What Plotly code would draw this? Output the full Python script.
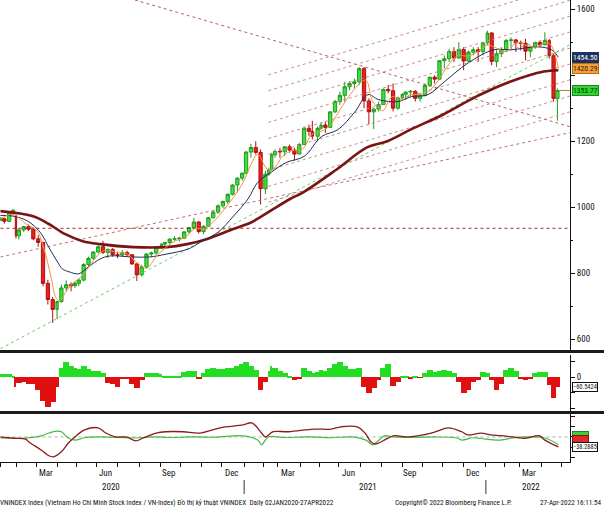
import pandas as pd
import plotly.graph_objects as go

FONT = "Liberation Sans Narrow, Roboto Condensed, Arial Narrow, DejaVu Sans Condensed, sans-serif"

# ---------------- weekly OHLC (VN-Index) ----------------
week_dates = [
    "2020-01-02", "2020-01-08", "2020-01-15", "2020-01-21", "2020-01-30", "2020-02-05", "2020-02-12", "2020-02-19",
    "2020-02-26", "2020-03-04", "2020-03-11", "2020-03-18", "2020-03-25", "2020-04-01", "2020-04-08", "2020-04-15",
    "2020-04-22", "2020-04-28", "2020-05-06", "2020-05-13", "2020-05-20", "2020-05-27", "2020-06-03", "2020-06-10",
    "2020-06-17", "2020-06-24", "2020-07-01", "2020-07-08", "2020-07-15", "2020-07-22", "2020-07-29", "2020-08-05",
    "2020-08-12", "2020-08-19", "2020-08-26", "2020-09-03", "2020-09-09", "2020-09-16", "2020-09-23", "2020-09-30",
    "2020-10-07", "2020-10-14", "2020-10-21", "2020-10-28", "2020-11-04", "2020-11-11", "2020-11-18", "2020-11-25",
    "2020-12-02", "2020-12-09", "2020-12-16", "2020-12-23", "2020-12-30",
    "2021-01-06", "2021-01-13", "2021-01-20", "2021-01-27", "2021-02-03", "2021-02-09", "2021-02-18", "2021-02-24",
    "2021-03-03", "2021-03-10", "2021-03-17", "2021-03-24", "2021-03-31", "2021-04-07", "2021-04-14", "2021-04-20",
    "2021-04-28", "2021-05-05", "2021-05-12", "2021-05-19", "2021-05-26", "2021-06-02", "2021-06-09", "2021-06-16",
    "2021-06-23", "2021-06-30", "2021-07-07", "2021-07-14", "2021-07-21", "2021-07-28", "2021-08-04", "2021-08-11",
    "2021-08-18", "2021-08-25", "2021-09-01", "2021-09-08", "2021-09-15", "2021-09-22", "2021-09-29", "2021-10-06",
    "2021-10-13", "2021-10-20", "2021-10-27", "2021-11-03", "2021-11-10", "2021-11-17", "2021-11-24", "2021-12-01",
    "2021-12-08", "2021-12-15", "2021-12-22", "2021-12-29",
    "2022-01-05", "2022-01-12", "2022-01-19", "2022-01-26", "2022-02-09", "2022-02-16", "2022-02-23", "2022-03-02",
    "2022-03-09", "2022-03-16", "2022-03-23", "2022-03-30", "2022-04-06", "2022-04-13", "2022-04-20", "2022-04-26",
]
opens = [
    961, 965, 957, 985, 975, 913, 931, 941, 933, 904, 893, 769, 720, 690, 714, 755,
    765, 762, 769, 779, 826, 845, 864, 880, 863, 872, 856, 855, 862, 856, 828, 795,
    819, 858, 861, 880, 888, 893, 903, 904, 906, 925, 938, 955, 926, 942, 968, 985,
    1004, 1017, 1039, 1067, 1088,
    1103, 1167, 1181, 1166, 1056, 1100, 1114, 1159, 1169, 1168, 1183, 1173, 1161, 1190, 1239, 1230,
    1215, 1239, 1249, 1242, 1289, 1320, 1339, 1365, 1375, 1380, 1420, 1322, 1289, 1297, 1311, 1357,
    1353, 1300, 1331, 1342, 1349, 1351, 1330, 1339, 1369, 1394, 1388, 1444, 1450, 1472, 1452, 1478,
    1443, 1470, 1477, 1472,
    1498, 1528, 1442, 1465, 1478, 1505, 1507, 1498, 1497, 1473, 1486, 1499, 1492, 1505, 1459, 1330,
]
highs = [
    970, 968, 988, 993, 976, 935, 943, 947, 938, 915, 895, 780, 728, 716, 765, 778,
    772, 775, 785, 830, 850, 866, 885, 898, 875, 876, 865, 870, 868, 858, 830, 825,
    860, 865, 882, 890, 895, 906, 912, 910, 927, 940, 968, 958, 945, 970, 990, 1008,
    1020, 1042, 1070, 1090, 1105,
    1170, 1192, 1200, 1175, 1110, 1120, 1165, 1175, 1180, 1185, 1190, 1180, 1195, 1245, 1250, 1262,
    1245, 1255, 1260, 1290, 1325, 1350, 1380, 1382, 1390, 1425, 1425, 1330, 1300, 1320, 1360, 1370,
    1375, 1335, 1345, 1350, 1355, 1355, 1345, 1375, 1395, 1400, 1445, 1460, 1480, 1485, 1500, 1485,
    1475, 1485, 1485, 1500,
    1535, 1530, 1475, 1485, 1510, 1515, 1510, 1505, 1510, 1490, 1502, 1505, 1530, 1510, 1465, 1360,
]
lows = [
    958, 950, 955, 978, 905, 902, 925, 928, 900, 880, 760, 705, 649, 660, 710, 745,
    745, 755, 760, 775, 820, 840, 860, 858, 845, 850, 845, 850, 850, 825, 776, 790,
    815, 850, 856, 875, 880, 888, 898, 896, 903, 920, 935, 920, 918, 940, 965, 980,
    998, 1010, 1035, 1045, 1080,
    1100, 1150, 1160, 1008, 1040, 1095, 1110, 1150, 1150, 1155, 1165, 1140, 1160, 1188, 1215, 1205,
    1200, 1235, 1225, 1240, 1285, 1310, 1320, 1355, 1360, 1370, 1300, 1250, 1237, 1290, 1310, 1345,
    1290, 1295, 1325, 1325, 1335, 1320, 1320, 1335, 1365, 1375, 1385, 1420, 1440, 1440, 1450, 1415,
    1440, 1460, 1440, 1460,
    1490, 1430, 1425, 1455, 1470, 1480, 1470, 1475, 1445, 1455, 1480, 1485, 1490, 1450, 1320, 1262,
]
closes = [
    965, 957, 985, 991, 913, 931, 941, 933, 904, 893, 769, 720, 690, 714, 755, 765,
    762, 769, 779, 826, 845, 864, 880, 863, 872, 856, 855, 862, 856, 828, 795, 819,
    858, 861, 880, 888, 893, 903, 904, 906, 925, 938, 955, 926, 942, 968, 985, 1004,
    1017, 1039, 1067, 1088, 1103,
    1167, 1181, 1166, 1056, 1100, 1114, 1159, 1169, 1168, 1183, 1173, 1161, 1190, 1239, 1230, 1215,
    1239, 1249, 1242, 1289, 1320, 1339, 1365, 1375, 1380, 1420, 1322, 1289, 1297, 1311, 1357, 1353,
    1300, 1331, 1342, 1349, 1351, 1330, 1339, 1369, 1394, 1388, 1444, 1450, 1472, 1452, 1478, 1443,
    1470, 1477, 1472, 1498,
    1528, 1442, 1465, 1478, 1505, 1507, 1498, 1497, 1473, 1486, 1499, 1492, 1505, 1459, 1330, 1353.77,
]
# oscillator (panel 2), weekly
osc_vals = [
    20, 22, 18, 10, -60, -35, -30, -40, -45, -80, -150, -190, -160, -60, 60, 98,
    75, 60, 55, 70, 55, 40, 38, 30, -35, -45, -64, -10, -5, -40, -70, -20,
    25, 28, 25, 22, 8, 6, 4, 5, 35, 42, 40, -8, 30, 50, 57, 55,
    50, 57, 60, 70, 85,
    98, 70, 45, -81, -30, 40, 75, 60, 40, 30, 10, -20, -10, 57, 40, 30,
    35, 45, 40, 60, 85, 98, 70, 55, 50, 57, -60, -100, -70, -20, 60, 85,
    -55, -30, 10, 8, -5, 5, -3, 30, 45, 35, 40, 45, 42, 30, -30, -100,
    -80, -30, -20, 35,
    30, -20, -80, -40, 45, 57, 40, -10, -15, -12, 30, 35, 32, -50, -134, -60.5424,
]

# ---------------- moving averages ----------------
ma200_dates = ["2020-01-02", "2020-02-25", "2020-03-19", "2020-04-14", "2020-05-12", "2020-06-05", "2020-07-23",
               "2020-09-11", "2020-10-12", "2020-11-09", "2020-12-16", "2021-01-12", "2021-01-22", "2021-02-22",
               "2021-03-17", "2021-04-06", "2021-05-28", "2021-07-12", "2021-08-10", "2021-09-15", "2021-11-02",
               "2021-12-20", "2022-02-15", "2022-04-05", "2022-04-27"]
ma200_vals = [988, 973, 949, 918, 897, 888, 879, 879, 888, 903, 933, 952, 965, 994,
              1024, 1045, 1115, 1181, 1200, 1235, 1281, 1335, 1380, 1411, 1415]

ma50_dates = ["2020-01-02", "2020-01-21", "2020-02-18", "2020-03-06", "2020-03-20", "2020-04-01", "2020-04-09",
              "2020-04-20", "2020-05-06", "2020-05-20", "2020-06-05", "2020-06-19", "2020-07-23", "2020-08-17",
              "2020-09-11", "2020-10-13", "2020-10-30", "2020-11-25", "2020-12-17", "2021-01-08", "2021-01-22",
              "2021-02-18", "2021-03-12", "2021-04-07", "2021-05-06", "2021-05-31", "2021-06-23", "2021-07-13",
              "2021-07-28", "2021-08-25", "2021-09-16", "2021-10-11", "2021-11-03", "2021-12-08", "2022-01-14",
              "2022-02-16", "2022-03-28", "2022-04-18", "2022-04-27"]
ma50_vals = [975, 973, 958, 924, 873, 834, 813, 804, 798, 819, 843, 852, 849, 849, 858, 873, 894, 924, 973,
             1025, 1075, 1106, 1136, 1154, 1214, 1235, 1287, 1341, 1326, 1320, 1335, 1341, 1380, 1438, 1477,
             1477, 1486, 1477, 1454.50]

ma20_dates = ["2020-01-02", "2020-01-21", "2020-02-14", "2020-03-03", "2020-03-12", "2020-03-23", "2020-03-30",
              "2020-04-06", "2020-04-15", "2020-04-24", "2020-05-11", "2020-06-02", "2020-06-15", "2020-07-01",
              "2020-07-15", "2020-07-29", "2020-08-12", "2020-08-26", "2020-09-10", "2020-09-24", "2020-10-08",
              "2020-10-22", "2020-11-05", "2020-11-19", "2020-12-03", "2020-12-17", "2020-12-31", "2021-01-14",
              "2021-01-22", "2021-02-05", "2021-02-22", "2021-03-08", "2021-03-22", "2021-04-05", "2021-04-19",
              "2021-05-04", "2021-05-18", "2021-06-01", "2021-06-15", "2021-06-29", "2021-07-09", "2021-07-20",
              "2021-08-03", "2021-08-17", "2021-08-31", "2021-09-14", "2021-09-28", "2021-10-12", "2021-10-26",
              "2021-11-09", "2021-11-23", "2021-12-07", "2021-12-21", "2022-01-06", "2022-01-19", "2022-02-10",
              "2022-02-24", "2022-03-10", "2022-03-24", "2022-04-07", "2022-04-18", "2022-04-27"]
ma20_vals = [965, 978, 950, 927, 873, 792, 728, 715, 745, 770, 790, 852, 870, 862, 858, 832, 815, 850, 878, 898,
             908, 935, 935, 958, 992, 1030, 1075, 1135, 1160, 1115, 1115, 1155, 1172, 1175, 1220, 1228, 1245,
             1290, 1335, 1370, 1385, 1320, 1292, 1335, 1325, 1340, 1342, 1352, 1385, 1430, 1460, 1458, 1470,
             1492, 1482, 1472, 1500, 1490, 1485, 1500, 1488, 1420.29]

# ---------------- panel 3 lines ----------------
red3_dates = ["2020-01-02", "2020-01-21", "2020-02-14", "2020-02-19", "2020-03-09", "2020-03-19", "2020-03-26",
              "2020-04-08", "2020-04-17", "2020-04-28", "2020-05-14", "2020-06-03", "2020-06-15", "2020-06-29",
              "2020-07-14", "2020-07-28", "2020-08-06", "2020-08-26", "2020-09-10", "2020-10-06", "2020-10-29",
              "2020-11-27", "2020-12-31", "2021-01-14", "2021-01-28", "2021-02-03", "2021-02-22", "2021-03-16",
              "2021-04-22", "2021-05-20", "2021-06-03", "2021-06-28", "2021-07-08", "2021-07-16", "2021-07-23",
              "2021-08-05", "2021-08-19", "2021-09-08", "2021-10-04", "2021-10-21", "2021-11-09", "2021-11-29",
              "2021-12-07", "2021-12-27", "2022-01-11", "2022-01-25", "2022-02-18", "2022-03-09", "2022-03-29",
              "2022-04-06", "2022-04-27"]
red3_vals = [0, -5, -8, -18, -50, -72, -76, -57, -24, 0, 27, 35, 15, 0, 0, -15, -5, 15, 20, 20, 15, 35, 46,
             54, 15, 0, 20, 20, 30, 30, 39, 39, 15, -18, -27, -12, 5, 0, 8, 20, 35, 20, 8, 15, 8, 5, 0, -5, 5,
             -12, -38.2885]
green3_dates = ["2020-01-02", "2020-02-14", "2020-03-09", "2020-03-19", "2020-03-31", "2020-04-08", "2020-04-17",
                "2020-04-28", "2020-05-14", "2020-06-03", "2020-07-01", "2020-07-28", "2020-08-20", "2020-09-15",
                "2020-10-20", "2020-11-20", "2020-12-31", "2021-01-22", "2021-01-28", "2021-02-08", "2021-03-10",
                "2021-04-15", "2021-05-20", "2021-06-21", "2021-07-09", "2021-07-20", "2021-08-05", "2021-08-19",
                "2021-09-20", "2021-10-20", "2021-11-22", "2021-11-29", "2021-12-15", "2021-12-27", "2022-01-25",
                "2022-02-18", "2022-03-09", "2022-04-06", "2022-04-27"]
green3_vals = [-4, -4, 4, 15, 22, 20, -4, -12, -3, 0, -2, -4, 0, -2, 0, -1, 4, -12, -30, 0, -2, 0, -3, 0,
               -12, -30, 4, 0, -2, 0, -4, -12, -3, -6, -12, -4, 0, -4, -30]

# ---------------- trend lines (date, value endpoints) ----------------
end_date = "2022-05-17"
chan_start_date = "2021-02-08"
chan_start_vals = [1401, 1353, 1305, 1257, 1208, 1160, 1112, 1063, 1015]
chan_end_vals = [1675, 1627, 1579, 1531, 1482, 1434, 1386, 1337, 1289]
long_lines = [
    # (x0, y0, x1, y1, color)
    ("2020-07-27", 1628, end_date, 1244, "#b46464"),
    ("2020-01-02", 849, end_date, 1226, "#c27070"),
]
green_trend = ("2020-01-02", 571, end_date, 1492)
hline_value = 936
last_close = 1353.77

holidays = ["2020-01-01", "2020-01-23", "2020-01-24", "2020-01-27", "2020-01-28", "2020-01-29", "2020-04-02",
            "2020-04-30", "2020-05-01", "2020-09-02", "2021-01-01", "2021-02-10", "2021-02-11", "2021-02-12",
            "2021-02-15", "2021-02-16", "2021-04-21", "2021-04-30", "2021-05-03", "2021-09-02", "2021-09-03",
            "2022-01-03", "2022-01-31", "2022-02-01", "2022-02-02", "2022-02-03", "2022-02-04", "2022-04-11",
            "2022-05-02", "2022-05-03"]

month_labels = ["Mar", "Jun", "Sep", "Dec", "Mar", "Jun", "Sep", "Dec", "Mar"]
month_label_months = ["2020-03", "2020-06", "2020-09", "2020-12", "2021-03", "2021-06", "2021-09", "2021-12", "2022-03"]
year_labels = ["2020", "2021", "2022"]
year_label_dates = ["2020-06-22", "2021-07-13", "2022-03-17"]
year_sep_dates = ["2021-01-04", "2022-01-04"]

# ---------------- figure ----------------
H = 462.0
def py(p):
    return (H - p) / H

fig = go.Figure()

# trend lines (behind candles)
fig.add_trace(go.Scatter(x=[week_dates[0], end_date], y=[hline_value, hline_value], mode="lines",
                         line=dict(color="#a02828", width=1, dash="dot"), hoverinfo="skip"))
for s, e in zip(chan_start_vals, chan_end_vals):
    fig.add_trace(go.Scatter(x=[chan_start_date, end_date], y=[s, e], mode="lines",
                             line=dict(color="#cc8c8c", width=1, dash="dot"), hoverinfo="skip"))
for x0, y0, x1, y1, c in long_lines:
    fig.add_trace(go.Scatter(x=[x0, x1], y=[y0, y1], mode="lines",
                             line=dict(color=c, width=1, dash="dot"), hoverinfo="skip"))
fig.add_trace(go.Scatter(x=[green_trend[0], green_trend[2]], y=[green_trend[1], green_trend[3]], mode="lines",
                         line=dict(color="#6ccc6c", width=1, dash="dot"), hoverinfo="skip"))

# moving averages
fig.add_trace(go.Scatter(x=ma200_dates, y=ma200_vals, mode="lines", line=dict(color="#7a1414", width=2.6, shape="spline"),
                         hoverinfo="skip"))
fig.add_trace(go.Scatter(x=ma50_dates, y=ma50_vals, mode="lines", line=dict(color="#1f2d5c", width=1, shape="spline"),
                         hoverinfo="skip"))
fig.add_trace(go.Scatter(x=ma20_dates, y=ma20_vals, mode="lines", line=dict(color="#f0943c", width=1, shape="spline"),
                         hoverinfo="skip"))

# candles
fig.add_trace(go.Candlestick(x=week_dates, open=opens, high=highs, low=lows, close=closes,
                             increasing=dict(line=dict(color="#1f9a1f", width=1), fillcolor="#3ee03e"),
                             decreasing=dict(line=dict(color="#b01010", width=1), fillcolor="#e82020"),
                             whiskerwidth=0, hoverinfo="skip"))
fig.add_trace(go.Scatter(x=[week_dates[-1], end_date], y=[last_close, last_close], mode="lines",
                         line=dict(color="#a08a2a", width=1), hoverinfo="skip"))

# panel 2 oscillator
osc_colors = ["#22dd22" if v >= 0 else "#e01010" for v in osc_vals]
fig.add_trace(go.Bar(x=week_dates, y=osc_vals, marker=dict(color=osc_colors, line=dict(width=0)),
                     yaxis="y2", hoverinfo="skip"))

# panel 3 lines
fig.add_trace(go.Scatter(x=[week_dates[0], end_date], y=[0, 0], mode="lines", yaxis="y3",
                         line=dict(color="#b0b0b0", width=1, dash="dot"), hoverinfo="skip"))
fig.add_trace(go.Scatter(x=green3_dates, y=green3_vals, mode="lines", yaxis="y3",
                         line=dict(color="#44bb44", width=1.2, shape="spline"), hoverinfo="skip"))
fig.add_trace(go.Scatter(x=red3_dates, y=red3_vals, mode="lines", yaxis="y3",
                         line=dict(color="#8c1c1c", width=1.3, shape="spline"), hoverinfo="skip"))

# x axis ticks at first trading day of each month
bd = pd.bdate_range("2020-01-01", end_date)
bd = bd[~bd.isin(pd.to_datetime(holidays))]
bds = pd.Series(bd, index=bd)
month_starts = bds.groupby([bd.year, bd.month]).min().tolist()

lab_font = dict(family=FONT, size=9, color="#111")
foot_font = dict(family=FONT, size=7.2, color="#111")
annotations = []
for lab, ym in zip(month_labels, month_label_months):
    mid = pd.Timestamp(ym + "-15")
    mid = bds[bds >= mid].iloc[0]
    annotations.append(dict(x=mid, y=py(473), xref="x", yref="paper", text=lab, showarrow=False,
                            font=lab_font, xanchor="center", yanchor="middle"))
for lab, d in zip(year_labels, year_label_dates):
    annotations.append(dict(x=d, y=py(487), xref="x", yref="paper", text=lab, showarrow=False,
                            font=lab_font, xanchor="center", yanchor="middle"))
annotations.append(dict(x=-0.004, y=py(502), xref="paper", yref="paper", xanchor="left", yanchor="middle",
                        text="VNINDEX Index (Vietnam Ho Chi Minh Stock Index / VN-Index) Đồ thị kỹ thuật VNINDEX  Daily 02JAN2020-27APR2022",
                        showarrow=False, font=foot_font))
annotations.append(dict(x=393 / 570, y=py(502), xref="paper", yref="paper", xanchor="left", yanchor="middle",
                        text="Copyright© 2022 Bloomberg Finance L.P.", showarrow=False, font=foot_font))
annotations.append(dict(x=603 / 570, y=py(502), xref="paper", yref="paper", xanchor="right", yanchor="middle",
                        text="27-Apr-2022 16:11:54", showarrow=False, font=foot_font))

# value tags on right axis
tags = [
    ("y", 1454.50, "1454.50", "#1c3160", "#ffffff", "#1c3160", 7.6),
    ("y", 1420.29, "1420.29", "#f4a03c", "#3a1800", "#c06a10", 7.6),
    ("y", 1353.77, "1353.77", "#33d433", "#003300", "#1a8a1a", 7.6),
    ("y2", -60.5424, "\u2212" + "60.5424", "#ffffff", "#111111", "#111111", 6.4),
    ("y3", 4, "          ", "#33d433", "#33d433", "#1a8a1a", 6.4),
    ("y3", -12, "          ", "#e02a2a", "#e02a2a", "#901010", 6.4),
    ("y3", -38.2885, "\u2212" + "38.2885", "#ffffff", "#111111", "#111111", 6.4),
]
for ax, v, t, bg, fc, bc, fs in tags:
    annotations.append(dict(x=1.0 + 2 / 570, y=v, xref="paper", yref=ax, text=t, showarrow=False,
                            xanchor="left", yanchor="middle", bgcolor=bg, bordercolor=bc, borderwidth=1,
                            borderpad=0, font=dict(family=FONT, size=fs, color=fc)))

shapes = []
for yp in (351.5, 412.5):
    shapes.append(dict(type="line", xref="paper", yref="paper", x0=0, x1=604 / 570, y0=py(yp), y1=py(yp),
                       line=dict(color="#1a1a1a", width=3)))
for d in year_sep_dates:
    shapes.append(dict(type="line", xref="x", yref="paper", x0=d, x1=d, y0=py(480), y1=py(494),
                       line=dict(color="#333", width=1)))

axis_font = dict(family=FONT, size=9, color="#111")
fig.update_layout(
    width=604, height=511,
    margin=dict(l=0, r=34, t=0, b=49),
    paper_bgcolor="white", plot_bgcolor="white",
    showlegend=False, bargap=0, boxgap=0.2,
    xaxis=dict(type="date", domain=[0, 1], anchor="y3", range=["2019-12-31 12:00", end_date],
               rangebreaks=[dict(bounds=["sat", "mon"]), dict(values=holidays)],
               tickmode="array", tickvals=month_starts, ticktext=[""] * len(month_starts),
               ticks="outside", ticklen=4, tickcolor="#111", showline=True, linecolor="#111",
               showgrid=False, zeroline=False, rangeslider=dict(visible=False), fixedrange=True),
    yaxis=dict(domain=[py(350), 1], anchor="x", side="right", range=[567, 1628],
               tickvals=[600, 800, 1000, 1200, 1400, 1600], ticktext=["600", "800", "1000", "1200", "", "1600"],
               ticks="outside", ticklen=4, tickcolor="#111",
               minor=dict(dtick=100, ticks="outside", ticklen=2, tickcolor="#111"),
               showline=True, linecolor="#111", showgrid=False, zeroline=False, tickfont=axis_font),
    yaxis2=dict(domain=[py(411), py(355)], anchor="x", side="right", range=[-215, 142],
                tickvals=[-200, -100, 0, 100], ticktext=["", "", "0", ""], ticks="outside", ticklen=4,
                tickcolor="#111", showline=True, linecolor="#111", showgrid=False, zeroline=False,
                tickfont=axis_font),
    yaxis3=dict(domain=[0, py(414)], anchor="x", side="right", range=[-96, 88],
                tickvals=[-80, -40, 0, 40, 80], ticktext=[""] * 5, ticks="outside", ticklen=4,
                tickcolor="#111", showline=True, linecolor="#111", showgrid=False, zeroline=False,
                tickfont=axis_font),
    annotations=annotations, shapes=shapes,
)

fig.write_html("out.html")
